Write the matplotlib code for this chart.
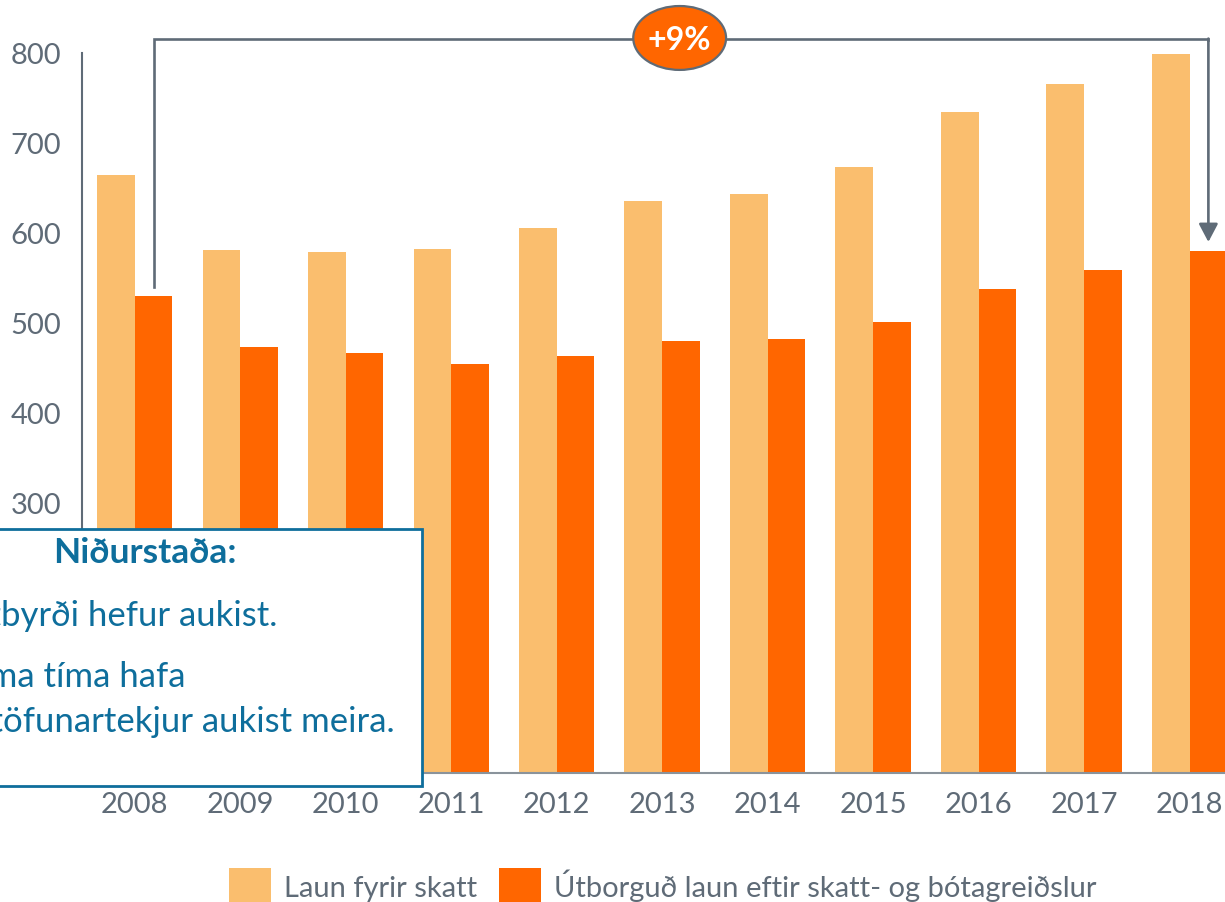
import matplotlib
matplotlib.use("Agg")
import matplotlib.pyplot as plt
from matplotlib.patches import Rectangle, Ellipse, Patch

years = ["2008", "2009", "2010", "2011", "2012", "2013", "2014", "2015", "2016", "2017", "2018"]
laun_fyrir_skatt = [664, 581, 579, 582, 606, 636, 643, 673, 734, 766, 799]
utborgud_laun = [530, 473, 467, 455, 463, 480, 482, 501, 538, 559, 580]
yticks = [0, 100, 200, 300, 400, 500, 600, 700, 800]
series_names = ["Laun fyrir skatt", "Útborguð laun eftir skatt- og bótagreiðslur"]
change_label = "+9%"
box_title = "Niðurstaða:"
box_lines = ["Skattbyrði hefur aukist.", "Á sama tíma hafa", "ráðstöfunartekjur aukist meira."]

LIGHT = "#FABE6E"
DARK = "#FF6600"
GRAY = "#5F6B77"
BLUE = "#0E6E9C"

plt.rcParams["font.family"] = ["Lato", "DejaVu Sans"]

W, H = 1225, 903
fig = plt.figure(figsize=(W / 100, H / 100), dpi=100)
ax = fig.add_axes([82 / W, 1 - 774 / H, 1 - 82 / W, (774 - 54) / H])

x = list(range(len(years)))
bw = 0.357
ax.bar([i - bw / 2 for i in x], laun_fyrir_skatt, width=bw, color=LIGHT, zorder=2)
ax.bar([i + bw / 2 for i in x], utborgud_laun, width=bw, color=DARK, zorder=2)

ax.set_xlim(-0.5, len(years) - 1 + 0.336)
ax.set_ylim(0, 800)
ax.set_yticks(yticks)
ax.set_xticks(x)
ax.set_xticklabels(years)
ax.tick_params(axis="both", length=0, labelsize=21, labelcolor=GRAY)
ax.tick_params(axis="y", pad=15)
ax.tick_params(axis="x", pad=13)
# labels for 0-200 lie beneath the conclusion box
for val, lab in zip(yticks, ax.get_yticklabels()):
    if val < 300:
        lab.set_visible(False)
for s in ["top", "right"]:
    ax.spines[s].set_visible(False)
ax.spines["left"].set_color(GRAY)
ax.spines["bottom"].set_color("#8A939B")
ax.spines["left"].set_linewidth(1.5)
ax.spines["bottom"].set_linewidth(1.5)

# bracket annotation
x0 = 0 + bw / 2
x1 = len(years) - 1 + bw / 2
ytop = 816
ax.plot([x0, x0, x1, x1], [utborgud_laun[0] + 10, ytop, ytop, ytop - 1], color=GRAY, lw=1.9,
        clip_on=False, zorder=3, solid_joinstyle="miter")
ax.annotate("", xy=(x1, utborgud_laun[-1] + 10), xytext=(x1, ytop),
            arrowprops=dict(arrowstyle="-|>,head_length=1.1,head_width=0.58", color=GRAY, lw=1.9,
                            shrinkA=0, shrinkB=0), annotation_clip=False, zorder=3)
ell = Ellipse((5.166, 816.7), width=0.88, height=71, facecolor=DARK, edgecolor=GRAY, lw=1.6,
              clip_on=False, zorder=4)
ax.add_patch(ell)
ax.text(5.166, 815, change_label, ha="center", va="center", color="white", fontsize=23,
        fontweight="bold", zorder=5, clip_on=False)

# conclusion box
box = Rectangle((-0.01, 1 - 787 / H), 0.01 + 422 / W, (787 - 530) / H, transform=fig.transFigure,
                facecolor="white", edgecolor=BLUE, lw=2, zorder=10)
fig.patches.append(box)
fig.text(145 / W, 1 - 563 / H, box_title, ha="center", va="baseline", color=BLUE, fontsize=25.5,
         fontweight="bold", zorder=11)
fig.text(277 / W, 1 - 626 / H, box_lines[0], ha="right", va="baseline", color=BLUE, fontsize=25, zorder=11)
fig.text(186 / W, 1 - 687 / H, box_lines[1], ha="right", va="baseline", color=BLUE, fontsize=25, zorder=11)
fig.text(395 / W, 1 - 732 / H, box_lines[2], ha="right", va="baseline", color=BLUE, fontsize=25, zorder=11)

handles = [Patch(facecolor=LIGHT, edgecolor="none"), Patch(facecolor=DARK, edgecolor="none")]
leg = fig.legend(handles, series_names, loc="center", bbox_to_anchor=(663 / W, 1 - 887 / H), ncol=2,
                 frameon=False, fontsize=21, handlelength=1.43, handleheight=1.5, handletextpad=0.45,
                 columnspacing=0.75, borderpad=0, borderaxespad=0)
for t in leg.get_texts():
    t.set_color(GRAY)

fig.savefig("out.png", dpi=100)
